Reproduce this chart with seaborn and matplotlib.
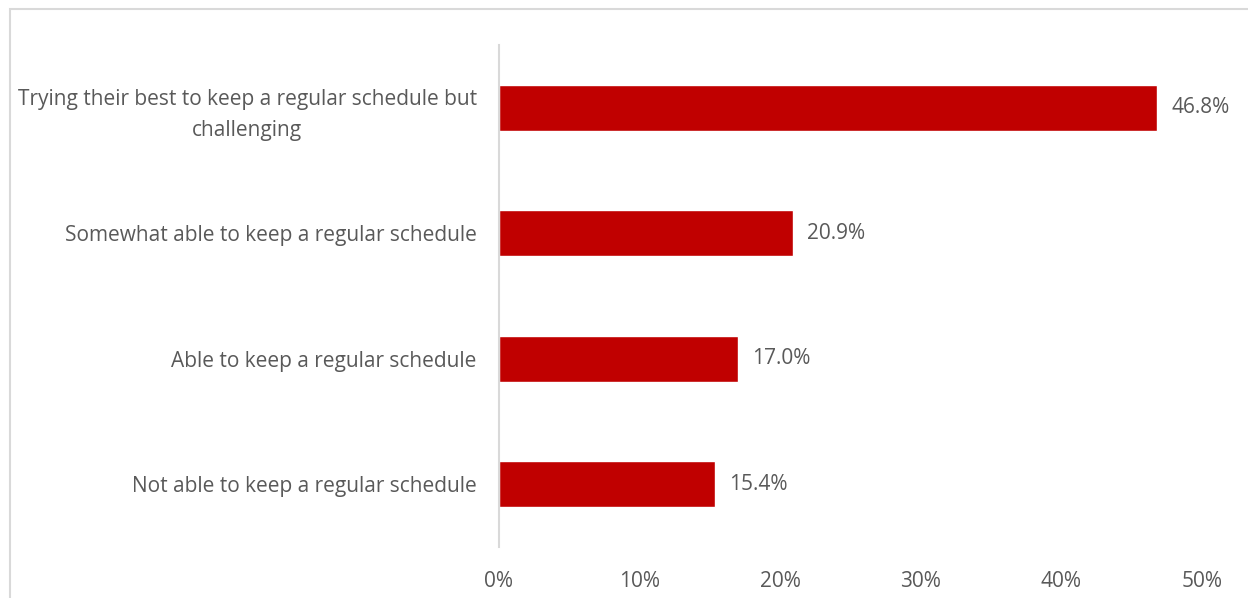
import matplotlib
matplotlib.use("Agg")
import matplotlib.pyplot as plt
import seaborn as sns
import pandas as pd
from matplotlib.patches import Rectangle

categories = [
    "Trying their best to keep a regular schedule but\nchallenging",
    "Somewhat able to keep a regular schedule",
    "Able to keep a regular schedule",
    "Not able to keep a regular schedule",
]
values = [46.8, 20.9, 17.0, 15.4]
xticks = [0, 10, 20, 30, 40, 50]
xtick_labels = ["0%", "10%", "20%", "30%", "40%", "50%"]

sns.set_style("white")
plt.rcParams["font.family"] = ["Open Sans", "DejaVu Sans"]
text_color = "#595959"

df = pd.DataFrame({"category": categories, "value": values})

fig = plt.figure(figsize=(12.48, 5.98), dpi=100)
ax = fig.add_axes([0.3998, 0.0853, 0.9631 - 0.3998, 0.9247 - 0.0853])

sns.barplot(data=df, y="category", x="value", color="#C00000", width=0.37,
            saturation=1, ax=ax, orient="h")

ax.set_xlim(0, 50)
ax.set_xticks(xticks)
ax.set_xticklabels(xtick_labels)
ax.set_xlabel("")
ax.set_ylabel("")
for s in ["top", "right", "bottom"]:
    ax.spines[s].set_visible(False)
ax.spines["left"].set_color("#D9D9D9")
ax.spines["left"].set_linewidth(1.5)
ax.tick_params(axis="both", length=0, labelsize=15, colors=text_color)
ax.tick_params(axis="x", pad=17)
ax.tick_params(axis="y", pad=16)
for lbl in ax.get_yticklabels():
    lbl.set_multialignment("center")
    lbl.set_linespacing(1.6)

for i, v in enumerate(values):
    ax.text(v + 1.0, i, f"{v:.1f}%", va="center", ha="left", fontsize=15, color=text_color)

fig.patches.append(Rectangle((10 / 1248, -0.1), 1.2, 1 - 9 / 598 + 0.1,
                             transform=fig.transFigure, fill=False,
                             edgecolor="#D9D9D9", linewidth=1.5))

fig.savefig("out.png", dpi=100)
